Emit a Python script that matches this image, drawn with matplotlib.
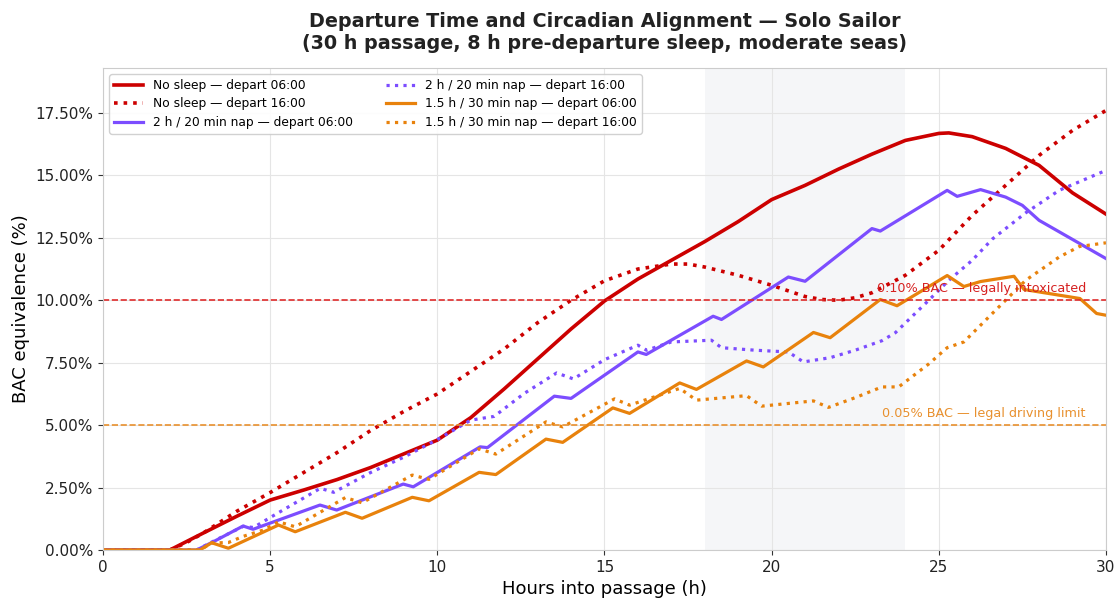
import numpy as np
import matplotlib
matplotlib.use('Agg')
import matplotlib.pyplot as plt
from matplotlib.ticker import PercentFormatter

# hours into passage / BAC equivalence (%)
h_ns06 = [0, 2, 3, 4, 5, 6, 7, 8, 9, 10, 11, 12, 13, 14, 15, 16, 17, 18, 19, 20,
          21, 22, 23, 24, 25, 25.3, 26, 27, 28, 29, 30]
v_ns06 = [0, 0, 0.68, 1.35, 2.0, 2.4, 2.82, 3.3, 3.85, 4.4, 5.3, 6.45, 7.65, 8.85, 9.97,
          10.85, 11.6, 12.35, 13.15, 14.03, 14.6, 15.25, 15.85, 16.4, 16.68, 16.7,
          16.55, 16.08, 15.4, 14.3, 13.45]

h_ns16 = [0, 2, 2.5, 3, 4, 5, 6, 7, 8, 9, 10, 11, 12, 13, 14, 15, 16, 17, 17.5, 18,
          19, 20, 21, 21.5, 22, 22.5, 23, 24, 25, 26, 27, 28, 29, 30]
v_ns16 = [0, 0, 0.3, 0.68, 1.55, 2.3, 3.1, 3.9, 4.78, 5.55, 6.25, 7.15, 8.05, 9.1,
          10.0, 10.78, 11.25, 11.45, 11.45, 11.33, 11.0, 10.6, 10.15, 10.03, 10.0,
          10.1, 10.3, 11.0, 12.0, 13.4, 14.6, 15.8, 16.8, 17.6]

h_nap2_06 = [0, 2.8, 3.3, 4.19, 4.49, 6.49, 6.99, 8.98, 9.28, 11.28, 11.5, 13.5, 14.0,
             16.0, 16.25, 18.25, 18.5, 20.5, 21.0, 23.0, 23.25, 25.25, 25.55, 26.25,
             27.0, 27.5, 28.0, 30]
v_nap2_06 = [0, 0, 0.33, 0.96, 0.83, 1.8, 1.6, 2.64, 2.53, 4.13, 4.1, 6.16, 6.07,
             7.93, 7.83, 9.36, 9.23, 10.93, 10.76, 12.87, 12.77, 14.4, 14.16, 14.43,
             14.13, 13.8, 13.2, 11.67]

h_nap2_16 = [0, 2.8, 3.3, 4.2, 4.5, 5, 6.5, 6.9, 8, 9, 10, 11, 11.7, 12.6, 13.57,
             14.07, 15, 16, 16.26, 17, 18.2, 18.5, 19.5, 20.5, 20.95, 21.75, 22.5,
             23.3, 23.7, 24.7, 25.3, 26, 26.6, 27.6, 28.6, 30]
v_nap2_16 = [0, 0, 0.35, 0.95, 0.9, 1.3, 2.47, 2.31, 3.1, 3.72, 4.42, 5.2, 5.35, 6.27,
             7.09, 6.85, 7.62, 8.2, 8.0, 8.33, 8.4, 8.1, 8.0, 7.93, 7.53, 7.7, 8.0,
             8.38, 8.7, 10.0, 10.8, 11.6, 12.45, 13.5, 14.4, 15.2]

h_nap15_06 = [0, 2.9, 3.25, 3.75, 5.25, 5.75, 7.25, 7.75, 9.25, 9.75, 11.25, 11.75,
              13.25, 13.75, 15.25, 15.75, 17.25, 17.75, 19.25, 19.75, 21.25, 21.75,
              23.25, 23.75, 25.25, 25.75, 26.25, 27.25, 27.55, 29.22, 29.72, 30]
v_nap15_06 = [0, 0, 0.29, 0.07, 1.0, 0.73, 1.51, 1.27, 2.11, 1.97, 3.11, 3.02, 4.44,
              4.31, 5.69, 5.47, 6.69, 6.43, 7.57, 7.33, 8.71, 8.5, 10.03, 9.78, 10.99,
              10.55, 10.75, 10.96, 10.43, 10.07, 9.47, 9.4]

h_nap15_16 = [0, 2.9, 3.25, 3.75, 4.2, 4.8, 5.25, 5.75, 7.25, 7.75, 9.25, 9.75, 11.25,
              11.75, 13.25, 13.75, 15.3, 15.75, 17.25, 17.75, 19.25, 19.7, 21.25, 21.7,
              22.5, 23.3, 23.8, 24.7, 25.25, 25.75, 26.6, 27.6, 28.6, 29.2, 30]
v_nap15_16 = [0, 0, 0.28, 0.3, 0.55, 0.8, 1.13, 0.93, 2.1, 1.89, 3.0, 2.83, 4.05, 3.84,
              5.13, 4.93, 6.05, 5.8, 6.47, 6.0, 6.18, 5.76, 5.97, 5.71, 6.1, 6.53, 6.53,
              7.45, 8.1, 8.33, 9.47, 10.8, 11.73, 12.15, 12.3]

RED = '#cc0000'
PURPLE = '#7c4dff'
ORANGE = '#e8820c'

fig = plt.figure(figsize=(11.16, 5.99), dpi=100)
ax = fig.add_axes([0.0923, 0.0818, 0.8987, 0.8047])

ax.axvspan(18, 24, color='#64748b', alpha=0.06, lw=0, zorder=0)

ax.plot(h_ns06, v_ns06, color=RED, lw=2.6, ls='-', label='No sleep — depart 06:00')
ax.plot(h_ns16, v_ns16, color=RED, lw=2.6, ls=':', label='No sleep — depart 16:00')
ax.plot(h_nap2_06, v_nap2_06, color=PURPLE, lw=2.3, ls='-', label='2 h / 20 min nap — depart 06:00')
ax.plot(h_nap2_16, v_nap2_16, color=PURPLE, lw=2.3, ls=':', label='2 h / 20 min nap — depart 16:00')
ax.plot(h_nap15_06, v_nap15_06, color=ORANGE, lw=2.3, ls='-', label='1.5 h / 30 min nap — depart 06:00')
ax.plot(h_nap15_16, v_nap15_16, color=ORANGE, lw=2.3, ls=':', label='1.5 h / 30 min nap — depart 16:00')

ax.axhline(10, color='#e02b2b', ls='--', lw=1.2)
ax.axhline(5, color='#e8902e', ls='--', lw=1.2)
ax.text(29.4, 10.2, '0.10% BAC — legally intoxicated', color='#d62020', ha='right',
        va='bottom', fontsize=9.2)
ax.text(29.4, 5.2, '0.05% BAC — legal driving limit', color='#e8902e', ha='right',
        va='bottom', fontsize=9.2)

ax.set_xlim(0, 30)
ax.set_ylim(0, 19.3)
ax.set_yticks(np.arange(0, 18, 2.5))
ax.yaxis.set_major_formatter(PercentFormatter(100, decimals=2))
ax.tick_params(labelsize=11, color='#333333', labelcolor='#222222')
ax.grid(True, color='#e5e5e5', lw=0.8)
ax.set_axisbelow(True)
for s in ax.spines.values():
    s.set_color('#cccccc')

ax.set_xlabel('Hours into passage (h)', fontsize=13)
ax.set_ylabel('BAC equivalence (%)', fontsize=13)
ax.set_title('Departure Time and Circadian Alignment — Solo Sailor\n'
             '(30 h passage, 8 h pre-departure sleep, moderate seas)',
             fontsize=13.8, fontweight='bold', color='#222222', pad=14)

ax.legend(loc='upper left', ncol=2, fontsize=8.8, framealpha=0.9, edgecolor='#cccccc',
          handlelength=2.4, columnspacing=2.7, labelspacing=0.45)

fig.savefig('out.png', dpi=100)
